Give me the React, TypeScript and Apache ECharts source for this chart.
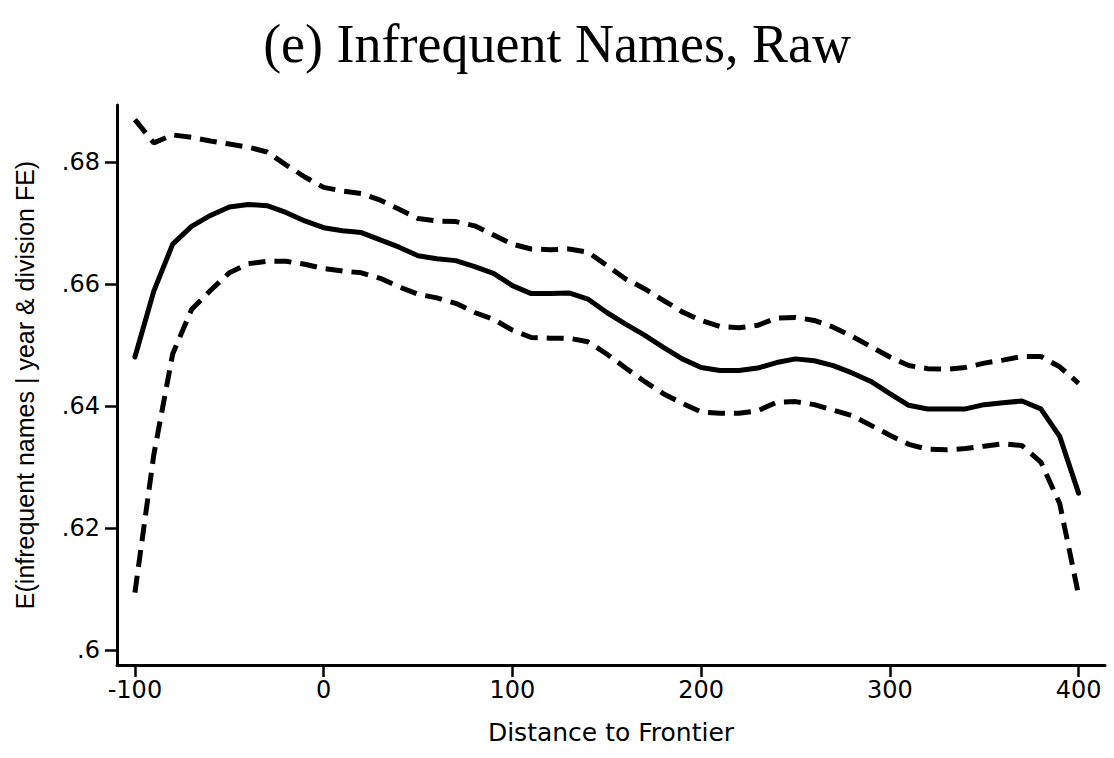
import React, { useEffect, useRef } from "react";
import * as echarts from "echarts";

const distance: number[] = [
  -100, -90, -80, -70, -60, -50, -40, -30, -20, -10,
  0, 10, 20, 30, 40, 50, 60, 70, 80, 90,
  100, 110, 120, 130, 140, 150, 160, 170, 180, 190,
  200, 210, 220, 230, 240, 250, 260, 270, 280, 290,
  300, 310, 320, 330, 340, 350, 360, 370, 380, 390, 400,
];

const estimate: number[] = [
  0.648, 0.6588, 0.6665, 0.6694, 0.6712, 0.6726, 0.673, 0.6728, 0.6717, 0.6703,
  0.6692, 0.6687, 0.6684, 0.6672, 0.666, 0.6646, 0.6641, 0.6638, 0.6628, 0.6617,
  0.6597, 0.6584, 0.6584, 0.6585, 0.6575, 0.6553, 0.6534, 0.6516, 0.6496, 0.6477,
  0.6463, 0.6458, 0.6458, 0.6462, 0.6471, 0.6477, 0.6474, 0.6466, 0.6454, 0.644,
  0.642, 0.6401, 0.6395, 0.6395, 0.6395, 0.6402, 0.6405, 0.6408, 0.6395, 0.635, 0.6257,
];

const upperCI: number[] = [
  0.6869, 0.6831, 0.6844, 0.684, 0.6834, 0.6829, 0.6824, 0.6816, 0.6795, 0.6775,
  0.6758, 0.6752, 0.6748, 0.6737, 0.6722, 0.6707, 0.6703, 0.6702, 0.6695, 0.668,
  0.6665, 0.6657, 0.6656, 0.6657, 0.6652, 0.663, 0.6608, 0.6592, 0.6573, 0.6554,
  0.654, 0.653, 0.6528, 0.6532, 0.6544, 0.6545, 0.654, 0.6529, 0.6514, 0.6497,
  0.648, 0.6466, 0.6461, 0.646, 0.6463, 0.647, 0.6475, 0.6481, 0.6481, 0.6464, 0.6437,
];

const lowerCI: number[] = [
  0.6094, 0.632, 0.6485, 0.6558, 0.6589, 0.6618, 0.6633, 0.6637, 0.6637, 0.6632,
  0.6625, 0.6621, 0.6618, 0.6609, 0.6595, 0.6583, 0.6577, 0.6568, 0.6553, 0.6542,
  0.6524, 0.6512, 0.6511, 0.6511, 0.6505, 0.6485, 0.6462, 0.644, 0.642, 0.6404,
  0.639, 0.6388, 0.6388, 0.6392, 0.6406, 0.6407, 0.6402, 0.6393, 0.6384, 0.6368,
  0.6352, 0.6337, 0.6329, 0.6328, 0.633, 0.6334, 0.6338, 0.6335, 0.6308, 0.624, 0.609,
];

const xTicks: number[] = [-100, 0, 100, 200, 300, 400];
const yTicks: number[] = [0.6, 0.62, 0.64, 0.66, 0.68];

const titleText = "(e) Infrequent Names, Raw";
const xTitle = "Distance to Frontier";
const yTitle = "E(infrequent names | year & division FE)";

const pairs = (ys: number[]) => distance.map((x, i) => [x, ys[i]]);

export default function App() {
  const ref = useRef<HTMLDivElement>(null);
  useEffect(() => {
    if (!ref.current) return;
    const chart = echarts.init(ref.current, null, { renderer: "svg" });
    const arial = "'Liberation Sans', Arial, sans-serif";
    const wide = "'DejaVu Sans', Verdana, sans-serif";
    const axisLine = { show: true, onZero: false, lineStyle: { color: "#000", width: 3 } };
    chart.setOption({
      animation: false,
      backgroundColor: "#fff",
      title: {
        text: titleText,
        left: "center",
        top: 12,
        textStyle: {
          fontFamily: "'Liberation Serif', 'Times New Roman', serif",
          fontSize: 54,
          fontWeight: "normal",
          color: "#000",
        },
      },
      grid: { left: 117, top: 105, width: 988, height: 560, containLabel: false },
      xAxis: {
        type: "value",
        min: -109.5,
        max: 414,
        axisLine,
        splitLine: { show: false },
        axisTick: {
          show: true,
          length: 12,
          lineStyle: { color: "#000", width: 2.5 },
          customValues: xTicks,
        },
        axisLabel: {
          customValues: xTicks,
          margin: 13,
          fontFamily: wide,
          fontSize: 24,
          color: "#000",
          formatter: (v: number) => String(v),
        },
        name: xTitle,
        nameLocation: "middle",
        nameGap: 55,
        nameTextStyle: { fontFamily: wide, fontSize: 25, color: "#000" },
      },
      yAxis: {
        type: "value",
        min: 0.59754,
        max: 0.6893,
        axisLine,
        splitLine: { show: false },
        axisTick: {
          show: true,
          length: 12,
          lineStyle: { color: "#000", width: 2.5 },
          customValues: yTicks,
        },
        axisLabel: {
          customValues: yTicks,
          margin: 17,
          fontFamily: wide,
          fontSize: 24,
          color: "#000",
          formatter: (v: number) => String(Number(v.toFixed(4))).replace(/^0\./, "."),
        },
        name: yTitle,
        nameLocation: "middle",
        nameGap: 80,
        nameTextStyle: { fontFamily: arial, fontSize: 25, color: "#000" },
      },
      series: [
        {
          type: "line",
          data: pairs(upperCI),
          symbol: "none",
          lineStyle: { color: "#000", width: 5, type: [17, 9], cap: "butt" },
          z: 2,
        },
        {
          type: "line",
          data: pairs(lowerCI),
          symbol: "none",
          lineStyle: { color: "#000", width: 5, type: [17, 9], cap: "butt" },
          z: 2,
        },
        {
          type: "line",
          data: pairs(estimate),
          symbol: "none",
          lineStyle: { color: "#000", width: 5, type: "solid", cap: "round", join: "round" },
          z: 3,
        },
      ],
    });
    return () => chart.dispose();
  }, []);
  return (
    <div
      ref={ref}
      style={{ position: "absolute", left: 0, top: 0, width: 1114, height: 758 }}
    />
  );
}
